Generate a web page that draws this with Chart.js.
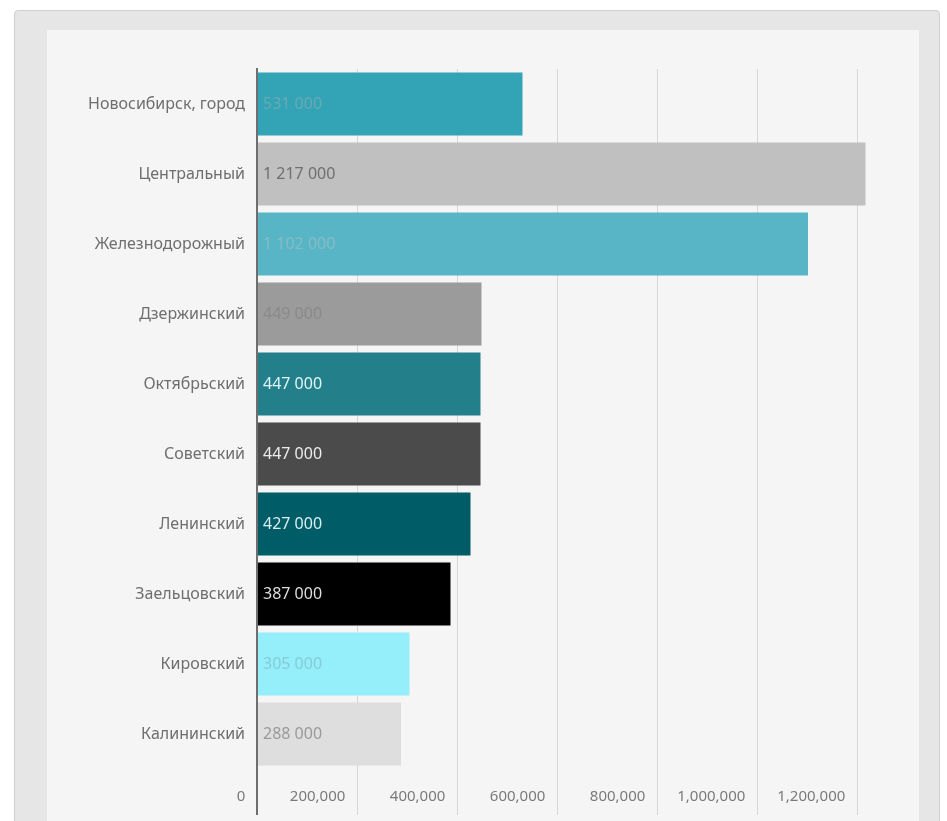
<!DOCTYPE html>
<html>
<head>
<meta charset="utf-8">
<script src="https://cdn.jsdelivr.net/npm/chart.js@4"></script>
<style>
  body { margin: 0; background: #ffffff; width: 947px; height: 821px; overflow: hidden; position: relative; }
  #frame { position: absolute; left: 14px; top: 10px; width: 924px; height: 830px; background: #e6e6e6; border: 1px solid #cfcfcf; border-radius: 4px; }
  #panel { position: absolute; left: 47px; top: 30px; width: 872px; height: 791px; background: #f5f5f5; }
  canvas { position: absolute; left: 0; top: 0; }
</style>
</head>
<body>
<div id="frame"></div>
<div id="panel"><canvas id="districtChart" width="872" height="791"></canvas></div>
<script>
        // Data
        const districts = ['Новосибирск, город', 'Центральный', 'Железнодорожный', 'Дзержинский', 'Октябрьский',
            'Советский', 'Ленинский', 'Заельцовский', 'Кировский', 'Калининский'];
        const values = [531000, 1217000, 1102000, 449000, 447000, 447000, 427000, 387000, 305000, 288000];
        const barColors = ['#32a4b5', '#c0c0c0', '#57b5c5', '#9b9b9b', '#237f8a', '#4b4b4b', '#005c66', '#000000', '#95effb', '#dedede'];
        const labelColors = ['#6aa9b3', '#6f6f6f', '#86bcc6', '#8a8a8a', '#e0f6f8', '#ececec', '#d6f0f2', '#dddddd', '#86cbd5', '#9a9a9a'];
        const xTicks = [0, 200000, 400000, 600000, 800000, 1000000, 1200000];

        const FONT = "'Noto Sans', sans-serif";

        // formatting helpers
        function spaced(v) {
            return v.toString().replace(/\B(?=(\d{3})+(?!\d))/g, ' ');
        }
        function commas(v) {
            return v.toString().replace(/\B(?=(\d{3})+(?!\d))/g, ',');
        }

        // value labels inside the bars
        const barValueLabels = {
            id: 'barValueLabels',
            afterDatasetsDraw(chart) {
                const ctx = chart.ctx;
                const meta = chart.getDatasetMeta(0);
                ctx.save();
                ctx.font = '16px ' + FONT;
                ctx.textAlign = 'left';
                ctx.textBaseline = 'middle';
                meta.data.forEach((bar, i) => {
                    ctx.fillStyle = labelColors[i];
                    ctx.fillText(spaced(values[i]), bar.base + 5, bar.y);
                });
                ctx.restore();
            }
        };

        const ctx = document.getElementById('districtChart').getContext('2d');
        const chart = new Chart(ctx, {
            type: 'bar',
            data: {
                labels: districts,
                datasets: [{
                    data: values,
                    backgroundColor: barColors,
                    borderWidth: 0,
                    barPercentage: 0.9,
                    categoryPercentage: 1.0
                }]
            },
            options: {
                indexAxis: 'y',
                responsive: false,
                animation: false,
                layout: { padding: { top: 39, right: 50, left: 0, bottom: 0 } },
                plugins: {
                    legend: { display: false },
                    tooltip: { enabled: false }
                },
                scales: {
                    x: {
                        min: 0,
                        max: 1224000,
                        // fixed tick positions, the axis runs a bit past the last one
                        afterBuildTicks: (scale) => {
                            scale.ticks = xTicks.map(v => ({ value: v }));
                        },
                        afterFit: (scale) => { scale.height = 52; },
                        ticks: {
                            autoSkip: false,
                            maxRotation: 0,
                            minRotation: 0,
                            align: 'end',
                            padding: -27,
                            color: '#7a7a7a',
                            font: { family: FONT, size: 15 },
                            callback: (v) => commas(v) + '   '
                        },
                        grid: {
                            tickLength: 46,
                            color: (c) => c.tick && c.tick.value === 0 ? '#6e6e6e' : '#d6d6d6',
                            lineWidth: (c) => c.tick && c.tick.value === 0 ? 2 : 1
                        },
                        border: { display: false }
                    },
                    y: {
                        afterFit: (scale) => { scale.width = 210; },
                        ticks: {
                            padding: 12,
                            color: '#6e6e6e',
                            font: { family: FONT, size: 16 }
                        },
                        grid: { display: false, drawTicks: false },
                        border: { display: true, color: '#6e6e6e', width: 2 }
                    }
                }
            },
            plugins: [barValueLabels]
        });
</script>
</body>
</html>
